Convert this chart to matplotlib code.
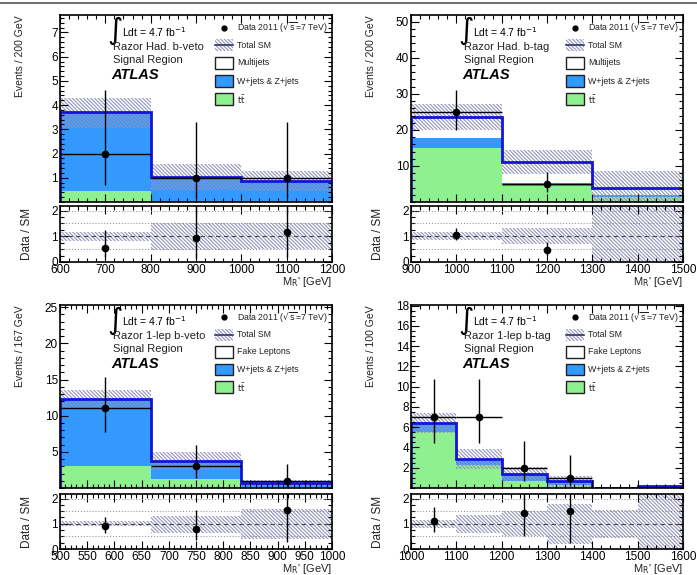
import matplotlib
matplotlib.use('Agg')
import matplotlib.pyplot as plt
import numpy as np
from matplotlib.patches import Rectangle
from matplotlib.lines import Line2D
from matplotlib.ticker import MultipleLocator, AutoMinorLocator

plt.rcParams['font.family'] = ['Liberation Sans', 'DejaVu Sans']
plt.rcParams['hatch.linewidth'] = 0.8

# ---------------- Panel 1: Razor Had. b-veto ----------------
p1_edges = [600, 800, 1000, 1200]
p1_ttbar = [0.45, 0.0, 0.0]
p1_wz = [3.25, 1.05, 0.87]
p1_other = [0.0, 0.0, 0.0]
p1_band_lo = [3.05, 0.5, 0.45]
p1_band_hi = [4.3, 1.55, 1.3]
p1_data = [2, 1, 1]
p1_data_lo = [1.29, 0.83, 0.83]
p1_data_hi = [2.64, 2.30, 2.30]
p1_rband_lo = [0.83, 0.48, 0.5]
p1_rband_hi = [1.16, 1.5, 1.5]

# ---------------- Panel 2: Razor Had. b-tag ----------------
p2_edges = [900, 1100, 1300, 1500]
p2_ttbar = [15.0, 4.4, 1.5]
p2_wz = [2.9, 0.8, 0.4]
p2_other = [5.8, 5.8, 2.0]
p2_band_lo = [20.0, 7.7, 0.0]
p2_band_hi = [27.2, 14.5, 8.7]
p2_data = [25, 5, 0]
p2_data_lo = [4.97, 2.16, 0]
p2_data_hi = [6.06, 3.38, 0]
p2_rband_lo = [0.85, 0.7, 0.0]
p2_rband_hi = [1.15, 1.32, 2.3]

# ---------------- Panel 3: Razor 1-lep b-veto ----------------
p3_edges = [500, 666.7, 833.3, 1000]
p3_ttbar = [3.0, 1.25, 0.1]
p3_wz = [9.3, 2.55, 0.55]
p3_other = [0.0, 0.0, 0.0]
p3_band_lo = [11.1, 2.5, 0.26]
p3_band_hi = [13.5, 4.95, 1.04]
p3_data = [11, 3, 1]
p3_data_lo = [3.3, 1.63, 0.83]
p3_data_hi = [4.4, 2.92, 2.30]
p3_rband_lo = [0.9, 0.65, 0.4]
p3_rband_hi = [1.1, 1.3, 1.6]

# ---------------- Panel 4: Razor 1-lep b-tag ----------------
p4_edges = [1000, 1100, 1200, 1300, 1400, 1500, 1600]
p4_ttbar = [5.5, 2.3, 0.65, 0.3, 0.0, 0.0]
p4_wz = [0.9, 0.55, 0.75, 0.37, 0.0, 0.15]
p4_other = [0.0, 0.0, 0.0, 0.0, 0.0, 0.0]
p4_band_lo = [5.45, 1.85, 0.7, 0.13, 0.0, 0.0]
p4_band_hi = [7.35, 3.85, 2.1, 1.2, 0.0, 0.3]
p4_data = [7, 7, 2, 1, 0, 0]
p4_data_lo = [2.58, 2.58, 1.29, 0.83, 0, 0]
p4_data_hi = [3.77, 3.77, 2.64, 2.30, 0, 0]
p4_rband_lo = [0.85, 0.65, 0.5, 0.2, 0.45, 0.0]
p4_rband_hi = [1.15, 1.35, 1.5, 1.8, 1.55, 2.3]

region_labels = ['Razor Had. b-veto', 'Razor Had. b-tag', 'Razor 1-lep b-veto', 'Razor 1-lep b-tag']
other_labels = ['Multijets', 'Multijets', 'Fake Leptons', 'Fake Leptons']
ylabels = ['Events / 200 GeV', 'Events / 200 GeV', 'Events / 167 GeV', 'Events / 100 GeV']
ymax = [7.72, 51.9, 25.3, 18.05]
ymajor = [1, 10, 5, 2]
xmajor = [100, 100, 50, 100]

panels = [
    (p1_edges, p1_ttbar, p1_wz, p1_other, p1_band_lo, p1_band_hi, p1_data, p1_data_lo, p1_data_hi, p1_rband_lo, p1_rband_hi),
    (p2_edges, p2_ttbar, p2_wz, p2_other, p2_band_lo, p2_band_hi, p2_data, p2_data_lo, p2_data_hi, p2_rband_lo, p2_rband_hi),
    (p3_edges, p3_ttbar, p3_wz, p3_other, p3_band_lo, p3_band_hi, p3_data, p3_data_lo, p3_data_hi, p3_rband_lo, p3_rband_hi),
    (p4_edges, p4_ttbar, p4_wz, p4_other, p4_band_lo, p4_band_hi, p4_data, p4_data_lo, p4_data_hi, p4_rband_lo, p4_rband_hi),
]

GREEN = '#8ff08f'
BLUE = '#3399ff'
LINE = '#1414d8'
HATCHC = '#9494bc'
HATCH = '\\' * 9

W, H = 697, 575
fig = plt.figure(figsize=(W / 100, H / 100), dpi=100)
fig.add_artist(Line2D([0, 1], [1 - 3 / H, 1 - 3 / H], color='#555555', lw=1.2, transform=fig.transFigure))

col_x = [60, 411]
main_rows = [(15, 202), (305, 488)]
ratio_rows = [(206, 262), (494, 549)]
AW = 272


def fr(x0, y0, y1):
    return [x0 / W, 1 - y1 / H, AW / W, (y1 - y0) / H]


def style(ax):
    ax.tick_params(which='both', direction='in', top=True, right=True, labelsize=8.5, pad=1.5)
    ax.tick_params(which='major', length=6, width=0.8)
    ax.tick_params(which='minor', length=3, width=0.8)
    for s in ax.spines.values():
        s.set_linewidth(1.2)


for i, (edges, tt, wz, oth, blo, bhi, dat, dlo, dhi, rlo, rhi) in enumerate(panels):
    r, c = divmod(i, 2)
    ax = fig.add_axes(fr(col_x[c], *main_rows[r]))
    axr = fig.add_axes(fr(col_x[c], *ratio_rows[r]))
    edges = np.array(edges, float)
    tt = np.array(tt); wz = np.array(wz); oth = np.array(oth)
    c1 = tt
    c2 = tt + wz
    tot = c2 + oth
    centers = 0.5 * (edges[:-1] + edges[1:])
    halfw = 0.5 * np.diff(edges)

    ax.stairs(c1, edges, baseline=0, fill=True, color=GREEN, lw=0)
    ax.stairs(c2, edges, baseline=c1, fill=True, color=BLUE, lw=0)
    ax.stairs(tot, edges, baseline=c2, fill=True, color='white', lw=0)
    ax.stairs(np.array(bhi), edges, baseline=np.array(blo), fill=True, facecolor='none',
              edgecolor=HATCHC, hatch=HATCH, lw=0)
    ax.stairs(tot, edges, baseline=0, color=LINE, lw=2)

    dat = np.array(dat, float); dlo = np.array(dlo); dhi = np.array(dhi)
    m = dat > 0
    ax.errorbar(centers[m], dat[m], yerr=[dlo[m], dhi[m]], xerr=halfw[m], fmt='o', color='black',
                ms=4.5, lw=1, capsize=0, zorder=5)

    ax.set_xlim(edges[0], edges[-1])
    ax.set_ylim(0, ymax[i])
    ax.xaxis.set_major_locator(MultipleLocator(xmajor[i]))
    ax.xaxis.set_minor_locator(AutoMinorLocator(5))
    ax.yaxis.set_minor_locator(AutoMinorLocator(5 if ymajor[i] != 2 else 4))
    style(ax)
    ax.tick_params(labelbottom=False)
    yt = [t for t in np.arange(ymajor[i], ymax[i] + 1e-9, ymajor[i])]
    ax.set_yticks(yt)
    ax.set_yticklabels([f'{t:g}' for t in yt])
    ax.set_ylabel(ylabels[i], fontsize=7.5, loc='top', color='#222222')
    ax.yaxis.set_label_coords(-0.129, 1.0)

    # text block
    ax.text(0.20, 0.915, r'$\int$', transform=ax.transAxes, fontsize=15, ha='center', va='center')
    ax.text(0.227, 0.91, r'Ldt = 4.7 fb$^{-1}$', transform=ax.transAxes, fontsize=7.5, va='center')
    ax.text(0.196, 0.828, region_labels[i], transform=ax.transAxes, fontsize=8, va='center', color='#222222')
    ax.text(0.196, 0.757, 'Signal Region', transform=ax.transAxes, fontsize=8, va='center', color='#222222')
    ax.text(0.188, 0.678, 'ATLAS', transform=ax.transAxes, fontsize=10.5, va='center',
            fontweight='bold', fontstyle='italic')

    # legend
    rows = [0.932, 0.838, 0.745, 0.647, 0.55]
    bx0, bw, bh = 0.571, 0.066, 0.064
    tx = 0.652
    ax.plot([0.603], [rows[0]], 'o', color='black', ms=3.5, transform=ax.transAxes, clip_on=False)
    labels = ['Data 2011 ($\\sqrt{\\mathrm{s}}$=7 TeV)', 'Total SM', other_labels[i],
              'W+jets & Z+jets', r'$\mathrm{t}\bar{\mathrm{t}}$']
    ax.add_patch(Rectangle((bx0, rows[1] - bh / 2), bw, bh, transform=ax.transAxes,
                           facecolor='white', edgecolor=HATCHC, hatch=HATCH, lw=0))
    ax.add_artist(Line2D([bx0, bx0 + bw], [rows[1], rows[1]], color='#333366', lw=1.2,
                         transform=ax.transAxes))
    for k, fc in zip([2, 3, 4], ['white', BLUE, GREEN]):
        ax.add_patch(Rectangle((bx0, rows[k] - bh / 2), bw, bh, transform=ax.transAxes,
                               facecolor=fc, edgecolor='#222222', lw=1))
    for k, lab in enumerate(labels):
        ax.text(tx, rows[k], lab, transform=ax.transAxes, fontsize=6.3, va='center', color='#222222')

    # ratio panel
    axr.stairs(np.array(rhi), edges, baseline=np.array(rlo), fill=True, facecolor='none',
               edgecolor=HATCHC, hatch=HATCH, lw=0)
    for yv in [0.5, 1.5, 2.0]:
        axr.axhline(yv, color='#888888', lw=0.7, ls=(0, (1, 2)))
    axr.axhline(1.0, color='#444444', lw=0.8, ls=(0, (4, 3)))
    safe_tot = np.where(tot > 0, tot, 1)
    ratio = np.where(tot > 0, dat / safe_tot, 0)
    rlo_e = np.where(tot > 0, dlo / safe_tot, 0)
    rhi_e = np.where(tot > 0, dhi / safe_tot, 0)
    rymax = 2.18
    mr = (dat > 0) & (tot > 0) & (ratio < rymax)
    axr.errorbar(centers[mr], ratio[mr], yerr=[rlo_e[mr], rhi_e[mr]], fmt='o', color='black',
                 ms=4.5, lw=1, capsize=0, zorder=5)
    axr.set_xlim(edges[0], edges[-1])
    axr.set_ylim(0, rymax)
    axr.set_yticks([0, 1, 2])
    axr.yaxis.set_minor_locator(MultipleLocator(0.25))
    axr.xaxis.set_major_locator(MultipleLocator(xmajor[i]))
    axr.xaxis.set_minor_locator(AutoMinorLocator(5))
    style(axr)
    axr.set_ylabel('Data / SM', fontsize=8.5, color='#222222')
    axr.yaxis.set_label_coords(-0.099, 0.5)
    axr.set_xlabel("M$_{\\mathrm{R}}$' [GeV]", fontsize=8, loc='right', color='#222222')
    axr.xaxis.set_label_coords(1.0, -0.235)

fig.savefig('out.png', dpi=100)
